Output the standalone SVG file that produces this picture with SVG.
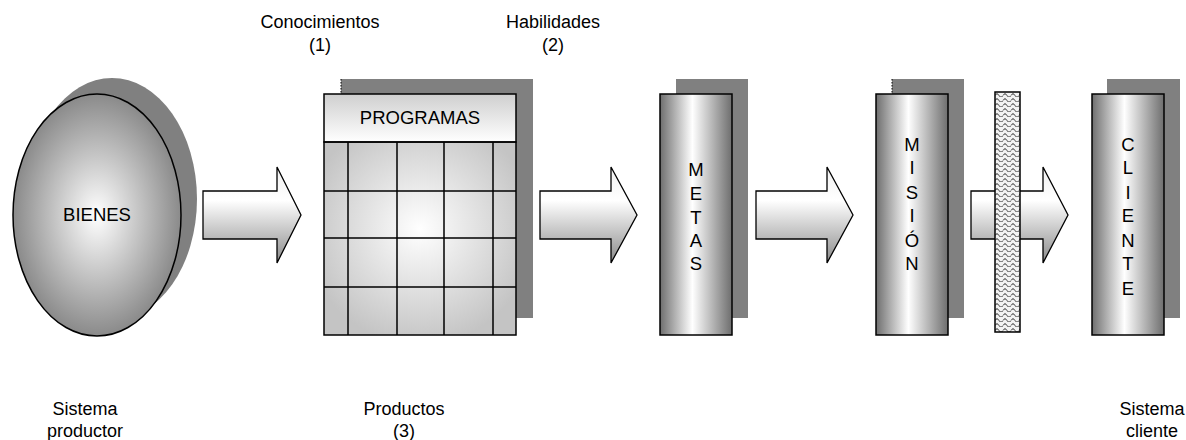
<svg xmlns="http://www.w3.org/2000/svg" width="1186" height="440" viewBox="0 0 1186 440">
<defs>
<style>
.t{font-family:"Liberation Sans",Arial,sans-serif;font-size:18px;fill:#000;text-anchor:middle}
.v{font-family:"Liberation Sans",Arial,sans-serif;font-size:18.5px;fill:#000;text-anchor:middle}
.sh{fill:#808080;stroke:none}
.ln{stroke:#000;stroke-width:1.5}
.arr{fill:url(#gArr);stroke:#000;stroke-width:1.3;stroke-linejoin:miter}
.col{fill:url(#gCol);stroke:#000;stroke-width:1.5}
.dot{stroke:#000;stroke-width:1;stroke-dasharray:1.5 1.5;fill:none}
</style>
<radialGradient id="gEll" cx="0.5" cy="0.5" r="0.5">
<stop offset="0" stop-color="#ffffff"/>
<stop offset="1" stop-color="#8a8a8a"/>
</radialGradient>
<radialGradient id="gTab" cx="0.5" cy="0.45" r="0.6">
<stop offset="0" stop-color="#ffffff"/>
<stop offset="1" stop-color="#c4c4c4"/>
</radialGradient>
<linearGradient id="gHead" x1="0" y1="0" x2="0" y2="1">
<stop offset="0" stop-color="#cfcfcf"/>
<stop offset="1" stop-color="#ffffff"/>
</linearGradient>
<linearGradient id="gCol" x1="0" y1="0" x2="1" y2="0">
<stop offset="0" stop-color="#6e6e6e"/>
<stop offset="0.45" stop-color="#ffffff"/>
<stop offset="1" stop-color="#6e6e6e"/>
</linearGradient>
<linearGradient id="gArr" x1="0" y1="0" x2="0" y2="1">
<stop offset="0" stop-color="#f0f0f0"/>
<stop offset="0.35" stop-color="#ffffff"/>
<stop offset="1" stop-color="#8a8a8a"/>
</linearGradient>
<pattern id="pWave" x="995" y="92" width="8" height="5" patternUnits="userSpaceOnUse">
<rect width="8" height="5" fill="#f2f2f2"/>
<path d="M0,3.5 Q2,0 4,3.5 T8,3.5" fill="none" stroke="#222" stroke-width="0.9"/>
</pattern>
</defs>
<rect width="1186" height="440" fill="#ffffff"/>

<g id="labels">
<text class="t" x="320" y="28">Conocimientos</text>
<text class="t" x="320" y="51">(1)</text>
<text class="t" x="553" y="28">Habilidades</text>
<text class="t" x="553" y="51">(2)</text>
<text class="t" x="85" y="415">Sistema</text>
<text class="t" x="85" y="437">productor</text>
<text class="t" x="404" y="415">Productos</text>
<text class="t" x="404" y="437">(3)</text>
<text class="t" x="1152" y="415">Sistema</text>
<text class="t" x="1152" y="437">cliente</text>
</g>

<g id="connectors">
<path class="arr" d="M203,191 H277 V167 L301,215 L277,263 V239 H203 Z"/>
<path class="arr" d="M540,191 H611 V167 L637,215 L611,263 V239 H540 Z"/>
<path class="arr" d="M756,191 H827 V167 L853,215 L827,263 V239 H756 Z"/>
<path class="arr" d="M971,191 H1043 V167 L1068,215 L1043,263 V239 H971 Z"/>
</g>

<g id="bienes">
<ellipse class="sh" cx="112" cy="199" rx="85" ry="121"/>
<ellipse cx="97" cy="215" rx="84" ry="121" fill="url(#gEll)" stroke="#000" stroke-width="1.5"/>
<text class="v" x="97" y="221">BIENES</text>
</g>

<g id="programas">
<rect class="sh" x="341" y="79" width="192" height="239"/>
<line class="dot" x1="341" y1="79" x2="341" y2="94"/>
<rect x="324" y="142" width="192" height="193" fill="url(#gTab)"/>
<rect x="324" y="94" width="192" height="48" fill="url(#gHead)" class="ln"/>
<rect x="324" y="142" width="192" height="193" fill="none" class="ln"/>
<path class="ln" fill="none" d="M348,142 V335 M397,142 V335 M444,142 V335 M493,142 V335 M324,191 H516 M324,238 H516 M324,287 H516"/>
<text class="v" x="420" y="124">PROGRAMAS</text>
</g>

<g id="metas">
<rect class="sh" x="676" y="79" width="72" height="239"/>
<rect class="col" x="660" y="94" width="72" height="241"/>
<text class="v" x="696" y="176">M</text>
<text class="v" x="696" y="200">E</text>
<text class="v" x="696" y="224">T</text>
<text class="v" x="696" y="247">A</text>
<text class="v" x="696" y="270">S</text>
</g>

<g id="mision">
<rect class="sh" x="892" y="79" width="72" height="239"/>
<line class="dot" x1="892" y1="79" x2="892" y2="94"/>
<rect class="col" x="876" y="94" width="72" height="241"/>
<text class="v" x="912" y="151">M</text>
<text class="v" x="912" y="174">I</text>
<text class="v" x="912" y="199">S</text>
<text class="v" x="912" y="222">I</text>
<text class="v" x="912" y="247">Ó</text>
<text class="v" x="912" y="270">N</text>
</g>

<g id="barrera">
<rect x="995" y="92" width="25" height="240" fill="url(#pWave)" stroke="#000" stroke-width="1.5"/>
</g>

<g id="cliente">
<rect class="sh" x="1107" y="79" width="73" height="239"/>
<rect class="col" x="1092" y="94" width="72" height="241"/>
<text class="v" x="1128" y="151">C</text>
<text class="v" x="1128" y="174">L</text>
<text class="v" x="1128" y="199">I</text>
<text class="v" x="1128" y="222">E</text>
<text class="v" x="1128" y="247">N</text>
<text class="v" x="1128" y="270">T</text>
<text class="v" x="1128" y="295">E</text>
</g>
</svg>
